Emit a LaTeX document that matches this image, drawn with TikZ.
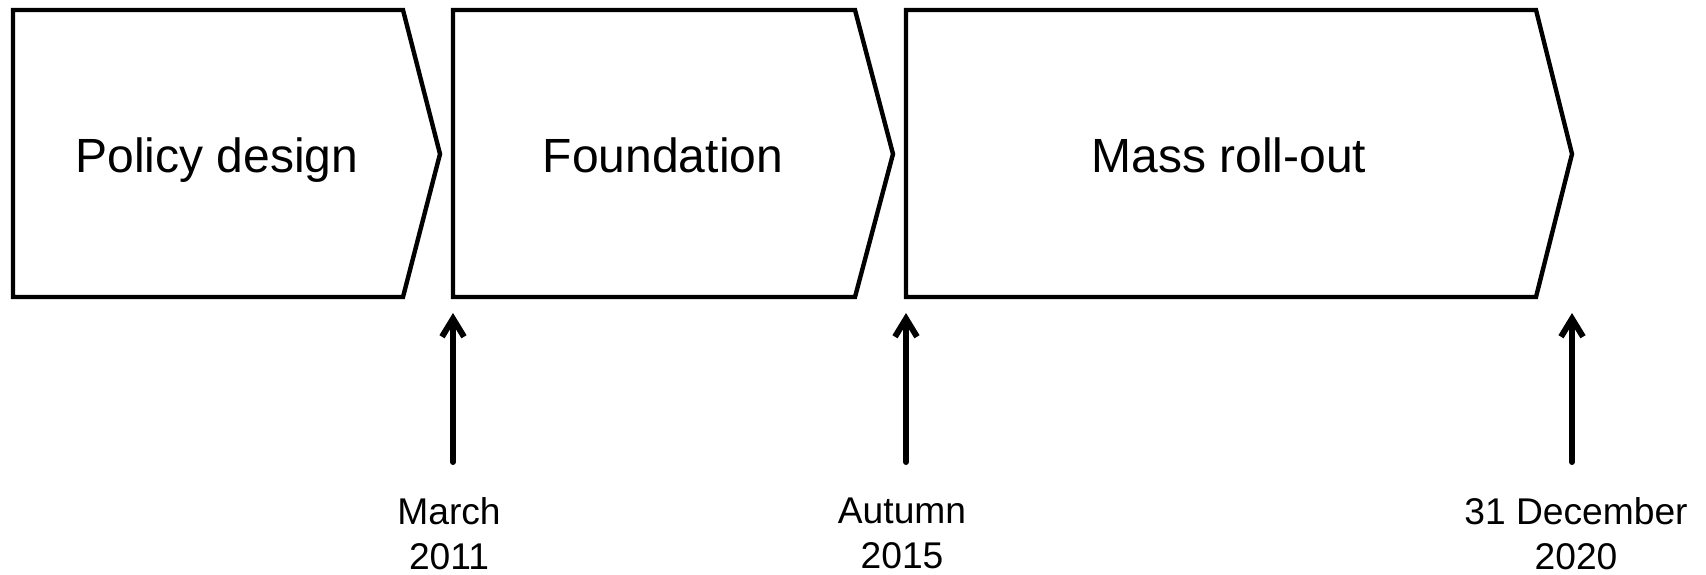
\documentclass[tikz,border=0pt]{standalone}
\usepackage{fontspec}
\setmainfont{Liberation Sans}
\usetikzlibrary{positioning, arrows.meta}

\begin{document}
\begin{tikzpicture}[x=0.5pt, y=-0.5pt,
    phase/.style={draw, line width=2.2pt},
    phaselabel/.style={anchor=base, inner sep=0pt, font=\fontsize{24}{29}\selectfont},
    datelabel/.style={align=center, inner sep=0pt, font=\fontsize{18.6}{22.5}\selectfont},
    milestone/.style={-{Straight Barb[length=9pt, width=11pt]}, line width=3pt, line cap=round, shorten >=8pt}]
  \useasboundingbox (0,0) rectangle (1706,574);

  % phases
  \draw[phase] (13,10) -- (403,10) -- (440,154) -- (403,297) -- (13,297) -- cycle;
  \draw[phase] (453,10) -- (855,10) -- (893,154) -- (855,297) -- (453,297) -- cycle;
  \draw[phase] (906,10) -- (1536,10) -- (1572,154) -- (1536,297) -- (906,297) -- cycle;

  \node[phaselabel] (design) at (217,172) {Policy design};
  \node[phaselabel] (found) at (663,172) {Foundation};
  \node[phaselabel] (rollout) at (1229,172) {Mass roll-out};

  % milestones
  \coordinate (b1) at (453,297);
  \coordinate (b2) at (906,297);
  \coordinate (b3) at (1572,297);
  \coordinate (t1) at (453,462);
  \coordinate (t2) at (906,462);
  \coordinate (t3) at (1572,462);

  \node[datelabel, below=17.5pt of t1, xshift=-2pt] (march) {March\\2011};
  \node[datelabel, below=17.5pt of t2, xshift=-2pt] (autumn) {Autumn\\2015};
  \node[datelabel, below=17.5pt of t3, xshift=2pt] (dec) {31 December\\2020};

  \draw[milestone] (t1) -- (b1);
  \draw[milestone] (t2) -- (b2);
  \draw[milestone] (t3) -- (b3);
\end{tikzpicture}
\end{document}
